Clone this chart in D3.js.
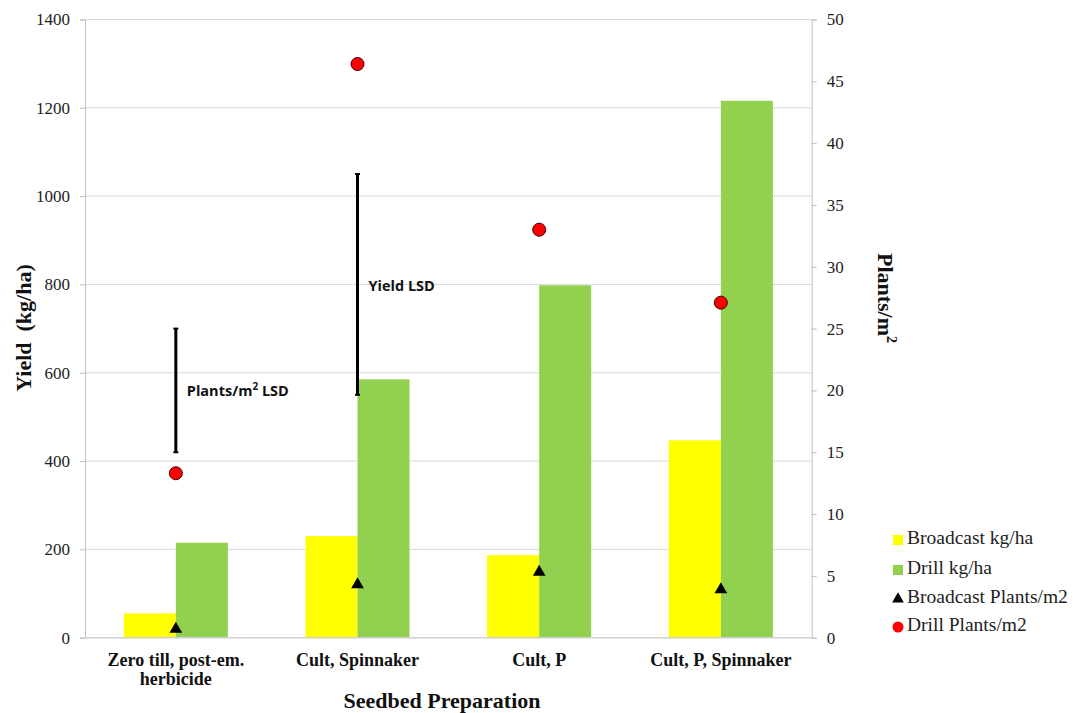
<!DOCTYPE html>
<html><head><meta charset="utf-8">
<script src="https://cdn.jsdelivr.net/npm/d3@7"></script>
<style>body{margin:0;background:#fff}svg{display:block}</style>
</head><body><svg id="c" width="1073" height="713"></svg>
<script>
const categories = [["Zero till, post-em.", "herbicide"], ["Cult, Spinnaker"], ["Cult, P"], ["Cult, P, Spinnaker"]];
const broadcastYield = [55, 230, 187, 447];
const drillYield = [215, 585, 798, 1216];
const broadcastPlants = [0.7, 4.3, 5.3, 3.9];
const drillPlants = [13.3, 46.4, 33.0, 27.1];
const yieldTicks = [0, 200, 400, 600, 800, 1000, 1200, 1400];
const plantTicks = [0, 5, 10, 15, 20, 25, 30, 35, 40, 45, 50];
const plantsLSD = {cat: 0, low: 15, high: 25};
const yieldLSD = {cat: 1, low: 550, high: 1050};
const legendItems = ["Broadcast kg/ha", "Drill kg/ha", "Broadcast Plants/m2", "Drill Plants/m2"];

const svg = d3.select("#c");
const L = 85, R = 811.7, T = 19.5, B = 637.7;
const serif = "'Liberation Serif', 'Times New Roman', serif";
const sans = "'Open Sans', 'Liberation Sans', sans-serif";

const x = d3.scaleBand().domain(d3.range(categories.length)).range([L, R]);
const yL = d3.scaleLinear().domain([0, 1400]).range([B, T]);
const yR = d3.scaleLinear().domain([0, 50]).range([B, T]);
const bw = 52;

// gridlines
svg.append("g").selectAll("line").data(yieldTicks.slice(1)).join("line")
  .attr("x1", L).attr("x2", R).attr("y1", d => yL(d)).attr("y2", d => yL(d))
  .attr("stroke", "#d9d9d9").attr("stroke-width", 1);

// bars
const cx = i => x(i) + x.bandwidth() / 2;
svg.append("g").selectAll("rect").data(broadcastYield).join("rect")
  .attr("x", (d, i) => cx(i) - bw).attr("width", bw)
  .attr("y", d => yL(d)).attr("height", d => B - yL(d)).attr("fill", "#ffff00");
svg.append("g").selectAll("rect").data(drillYield).join("rect")
  .attr("x", (d, i) => cx(i)).attr("width", bw)
  .attr("y", d => yL(d)).attr("height", d => B - yL(d)).attr("fill", "#92d050");

// axes
const axL = d3.axisLeft(yL).tickValues(yieldTicks).tickFormat(d3.format("d")).tickSize(5).tickPadding(10);
const gL = svg.append("g").attr("transform", `translate(${L},0)`).call(axL);
const axR = d3.axisRight(yR).tickValues(plantTicks).tickFormat(d3.format("d")).tickSize(5).tickPadding(10);
const gR = svg.append("g").attr("transform", `translate(${R},0)`).call(axR);
[gL, gR].forEach(g => {
  g.select(".domain").attr("stroke", "#bfbfbf");
  g.selectAll(".tick line").attr("stroke", "#bfbfbf");
  g.selectAll(".tick text").attr("font-family", serif).attr("font-size", 17).attr("fill", "#222");
});
svg.append("line").attr("x1", L).attr("x2", R).attr("y1", B).attr("y2", B).attr("stroke", "#d0d0d0").attr("stroke-width", 1.5);

// LSD bars
function lsd(o, scale) {
  const g = svg.append("g");
  const xx = cx(o.cat);
  g.append("line").attr("x1", xx).attr("x2", xx).attr("y1", scale(o.low)).attr("y2", scale(o.high))
    .attr("stroke", "#000").attr("stroke-width", 3);
  [o.low, o.high].forEach(v => g.append("line").attr("x1", xx - 2.5).attr("x2", xx + 2.5)
    .attr("y1", scale(v)).attr("y2", scale(v)).attr("stroke", "#000").attr("stroke-width", 2));
  return xx;
}
const px = lsd(plantsLSD, yR);
const yx = lsd(yieldLSD, yL);
const t1 = svg.append("text").attr("x", px + 11).attr("y", yR(20) + 1.5).attr("dominant-baseline", "middle")
  .attr("font-family", sans).attr("font-weight", "bold").attr("font-size", 14.5).attr("fill", "#111");
t1.append("tspan").text("Plants/m");
t1.append("tspan").attr("font-size", 10).attr("dy", -5).text("2");
t1.append("tspan").attr("dy", 5).text(" LSD");
svg.append("text").attr("x", yx + 11).attr("y", yL(800) + 3).attr("dominant-baseline", "middle")
  .attr("font-family", sans).attr("font-weight", "bold").attr("font-size", 14.5).attr("fill", "#111").text("Yield LSD");

// markers
const tri = d3.symbol().type(d3.symbolTriangle).size(70);
svg.append("g").selectAll("path").data(broadcastPlants).join("path")
  .attr("d", tri).attr("transform", (d, i) => `translate(${cx(i)},${yR(d)})`).attr("fill", "#000");
svg.append("g").selectAll("circle").data(drillPlants).join("circle")
  .attr("cx", (d, i) => cx(i)).attr("cy", d => yR(d)).attr("r", 6.5)
  .attr("fill", "#ff0000").attr("stroke", "#3a0000").attr("stroke-width", 1);

// category labels
categories.forEach((lines, i) => {
  const t = svg.append("text").attr("x", cx(i)).attr("y", 666).attr("text-anchor", "middle")
    .attr("font-family", serif).attr("font-weight", "bold").attr("font-size", 18).attr("fill", "#111");
  lines.forEach((s, k) => t.append("tspan").attr("x", cx(i)).attr("dy", k ? 19 : 0).text(s));
});

// axis titles
svg.append("text").attr("x", 442).attr("y", 708).attr("text-anchor", "middle")
  .attr("font-family", serif).attr("font-weight", "bold").attr("font-size", 22).attr("fill", "#111")
  .text("Seedbed Preparation");
svg.append("text").attr("transform", "translate(31,328) rotate(-90)").attr("text-anchor", "middle")
  .attr("font-family", serif).attr("font-weight", "bold").attr("font-size", 22).attr("fill", "#111")
  .attr("xml:space", "preserve").style("white-space", "pre").text("Yield  (kg/ha)");
const rt = svg.append("text").attr("transform", "translate(878,298) rotate(90)").attr("text-anchor", "middle")
  .attr("font-family", serif).attr("font-weight", "bold").attr("font-size", 22).attr("fill", "#111");
rt.append("tspan").text("Plants/m");
rt.append("tspan").attr("font-size", 14).attr("dy", -9).text("2");

// legend
const ly = [540, 570, 599, 627];
const lg = svg.append("g");
legendItems.forEach((s, i) => {
  const y = ly[i];
  if (i === 0 || i === 1) lg.append("rect").attr("x", 893).attr("y", y - 5).attr("width", 10).attr("height", 10)
    .attr("fill", i === 0 ? "#ffff00" : "#92d050");
  else if (i === 2) lg.append("path").attr("d", d3.symbol().type(d3.symbolTriangle).size(60))
    .attr("transform", `translate(898,${y})`).attr("fill", "#000");
  else lg.append("circle").attr("cx", 898).attr("cy", y).attr("r", 5.5).attr("fill", "#ff0000");
  lg.append("text").attr("x", 907).attr("y", y).attr("dominant-baseline", "middle")
    .attr("font-family", serif).attr("font-size", 19.5).attr("fill", "#222").text(s);
});
</script></body></html>
